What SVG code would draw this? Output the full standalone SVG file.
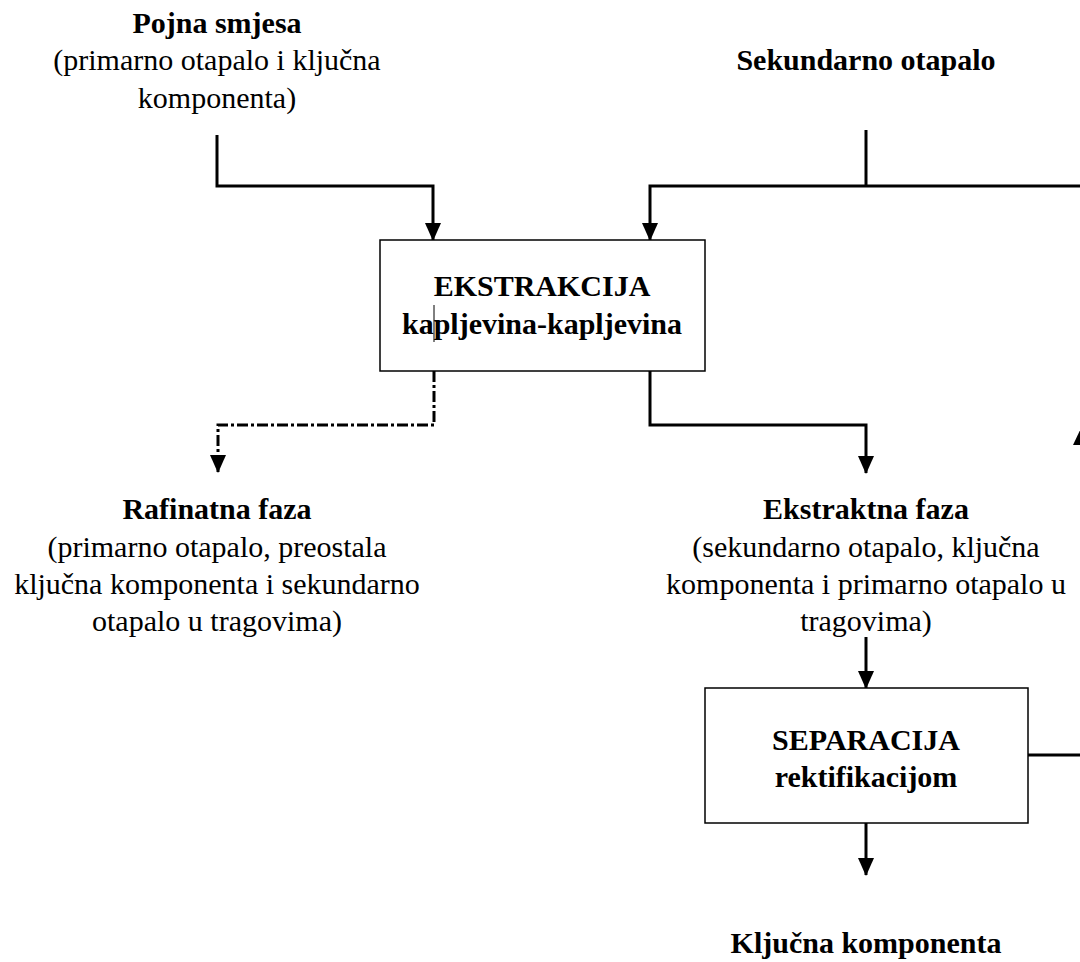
<svg xmlns="http://www.w3.org/2000/svg" width="1080" height="962" viewBox="0 0 1080 962">
<style>
text{font-family:"Liberation Serif","Times New Roman",serif;font-size:30px;fill:#000;text-anchor:middle}
.b{font-weight:bold}
.box{fill:#fff;stroke:#000;stroke-width:1.5}
.c{fill:none;stroke:#000;stroke-width:3}
.d{fill:none;stroke:#000;stroke-width:3;stroke-dasharray:11 3 3 3}
</style>
<defs>
<marker id="ah" markerUnits="userSpaceOnUse" markerWidth="18" markerHeight="20" refX="17" refY="8" orient="auto" viewBox="0 0 18 16">
<path d="M0,0 L18,8 L0,16 Z" fill="#000"/>
</marker>
</defs>
<rect width="1080" height="962" fill="#fff"/>
<g id="connectors">
<path class="c" d="M217,135 V186 H433 V240" marker-end="url(#ah)"/>
<path class="c" d="M866,130 V186"/>
<path class="c" d="M1080,186 H650 V240" marker-end="url(#ah)"/>
<path class="d" d="M434,371 V425 H218 V472" marker-end="url(#ah)"/>
<path class="c" d="M650,371 V425 H866 V473" marker-end="url(#ah)"/>
<path class="c" d="M866,637 V688" marker-end="url(#ah)"/>
<path class="c" d="M1028,755 H1080"/>
<path class="c" d="M866,823 V875" marker-end="url(#ah)"/>
<polygon points="1082,426 1073,445 1091,445" fill="#000"/>
</g>
<g id="pojna">
<text class="b" x="217" y="33">Pojna smjesa</text>
<text x="217" y="70">(primarno otapalo i ključna</text>
<text x="217" y="108">komponenta)</text>
</g>
<g id="sekundarno">
<text class="b" x="866" y="70">Sekundarno otapalo</text>
</g>
<g id="ekstrakcija">
<rect class="box" x="380" y="240" width="325" height="131"/>
<text class="b" x="542" y="296">EKSTRAKCIJA</text>
<text class="b" x="542" y="334">kapljevina-kapljevina</text>
<line x1="434" y1="305" x2="434" y2="342" stroke="#000" stroke-width="1"/>
</g>
<g id="rafinatna">
<text class="b" x="217" y="519">Rafinatna faza</text>
<text x="217" y="557">(primarno otapalo, preostala</text>
<text x="217" y="594">ključna komponenta i sekundarno</text>
<text x="217" y="631">otapalo u tragovima)</text>
</g>
<g id="ekstraktna">
<text class="b" x="866" y="519">Ekstraktna faza</text>
<text x="866" y="557">(sekundarno otapalo, ključna</text>
<text x="866" y="594">komponenta i primarno otapalo u</text>
<text x="866" y="631">tragovima)</text>
</g>
<g id="separacija">
<rect class="box" x="705" y="688" width="323" height="135"/>
<text class="b" x="866" y="750">SEPARACIJA</text>
<text class="b" x="866" y="787">rektifikacijom</text>
</g>
<g id="kljucna">
<text class="b" x="866" y="953">Ključna komponenta</text>
</g>
</svg>
